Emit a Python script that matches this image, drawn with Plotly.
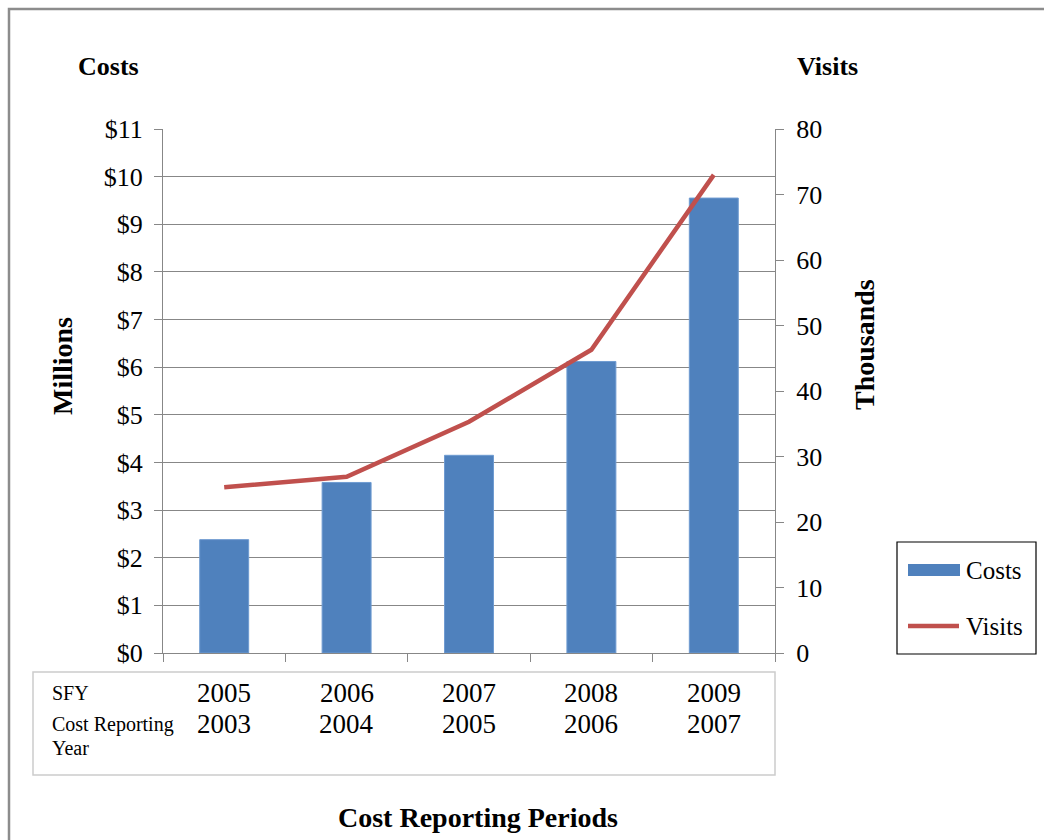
import plotly.graph_objects as go

# Reporting periods
sfy_years = ["2005", "2006", "2007", "2008", "2009"]
cost_reporting_years = ["2003", "2004", "2005", "2006", "2007"]

# Costs in millions of dollars, visits in thousands
costs_millions = [2.38, 3.58, 4.15, 6.12, 9.55]
visits_thousands = [25.3, 26.9, 35.3, 46.3, 73.0]

FONT = "Liberation Serif, Times New Roman, serif"
BLUE = "#4F81BD"
RED = "#C0504D"
GRID = "#878787"

W, H = 1044, 840
L, R, T, B = 163, 775, 129, 653  # plot area in pixels

positions = list(range(len(sfy_years)))
boundaries = [p - 0.5 for p in positions] + [positions[-1] + 0.5]


def px(x):
    return (x - L) / (R - L)


def py(y):
    return (B - y) / (B - T)


def label(text, x, y, size, xref="paper", xanchor="center", angle=0):
    return dict(text=text, xref=xref, yref="paper", x=x, y=y,
                xanchor=xanchor, yanchor="middle", textangle=angle,
                showarrow=False, font=dict(size=size))


fig = go.Figure()

fig.add_trace(go.Bar(
    x=positions, y=costs_millions, name="Costs",
    marker=dict(color=BLUE, line=dict(color="#6f9bd1", width=1)),
    yaxis="y", showlegend=False,
))
fig.add_trace(go.Scatter(
    x=positions, y=visits_thousands, name="Visits", mode="lines",
    line=dict(color=RED, width=4.5), yaxis="y2", showlegend=False,
))

fig.update_layout(
    width=W, height=H,
    margin=dict(l=L, r=W - R, t=T, b=H - B),
    paper_bgcolor="white", plot_bgcolor="white",
    font=dict(family=FONT, color="black", size=26),
    bargap=0.6,
    xaxis=dict(
        range=[boundaries[0], boundaries[-1]], tickvals=boundaries,
        ticks="outside", ticklen=8, tickcolor=GRID, showticklabels=False,
        showgrid=False, showline=True, linecolor=GRID, linewidth=1,
        zeroline=False,
    ),
    yaxis=dict(
        range=[0, 11], dtick=1, tickprefix="$", ticks="outside", ticklen=8,
        tickcolor=GRID, showgrid=True, gridcolor=GRID, gridwidth=1,
        showline=True, linecolor=GRID, zeroline=False,
        tickfont=dict(size=26), ticklabelstandoff=6,
    ),
    yaxis2=dict(
        range=[0, 80], dtick=10, overlaying="y", side="right", ticks="outside",
        ticklen=8, tickcolor=GRID, showgrid=False, showline=True,
        linecolor=GRID, zeroline=False, tickfont=dict(size=26),
        ticklabelstandoff=7,
    ),
)

shapes = []
annotations = []

# outer chart frame
shapes.append(dict(type="rect", xref="paper", yref="paper",
                   x0=px(9), x1=px(1060), y0=py(860), y1=py(9),
                   line=dict(color="#8c8c8c", width=2.5), layer="below"))

# data table box under the axis
shapes.append(dict(type="rect", xref="paper", yref="paper",
                   x0=px(33), x1=px(775), y0=py(775), y1=py(672),
                   line=dict(color="#cccccc", width=1.5)))

annotations.append(label("SFY", px(50), py(693), 20, xanchor="left"))
annotations.append(label("Cost Reporting", px(50), py(724), 20, xanchor="left"))
annotations.append(label("Year", px(50), py(748), 20, xanchor="left"))
for pos, sfy, cry in zip(positions, sfy_years, cost_reporting_years):
    annotations.append(label(sfy, pos, py(693), 27, xref="x"))
    annotations.append(label(cry, pos, py(724), 27, xref="x"))

# axis titles
annotations.append(label("<b>Costs</b>", px(108), py(67), 26))
annotations.append(label("<b>Visits</b>", px(827), py(67), 26))
annotations.append(label("<b>Millions</b>", px(62), py(366), 28, angle=-90))
annotations.append(label("<b>Thousands</b>", px(864), py(345), 28, angle=-90))
annotations.append(label("<b>Cost Reporting Periods</b>", px(478), py(817), 28))

# legend
shapes.append(dict(type="rect", xref="paper", yref="paper",
                   x0=px(897), x1=px(1036), y0=py(654), y1=py(542),
                   line=dict(color="black", width=1.2), fillcolor="white"))
shapes.append(dict(type="rect", xref="paper", yref="paper",
                   x0=px(908), x1=px(960), y0=py(576), y1=py(564),
                   line=dict(width=0), fillcolor=BLUE))
shapes.append(dict(type="line", xref="paper", yref="paper",
                   x0=px(908), x1=px(959), y0=py(626), y1=py(626),
                   line=dict(color=RED, width=4.5)))
annotations.append(label("Costs", px(964), py(570), 25, xanchor="left"))
annotations.append(label("Visits", px(964), py(626), 25, xanchor="left"))

fig.update_layout(shapes=shapes, annotations=annotations)

fig.write_html("out.html")
